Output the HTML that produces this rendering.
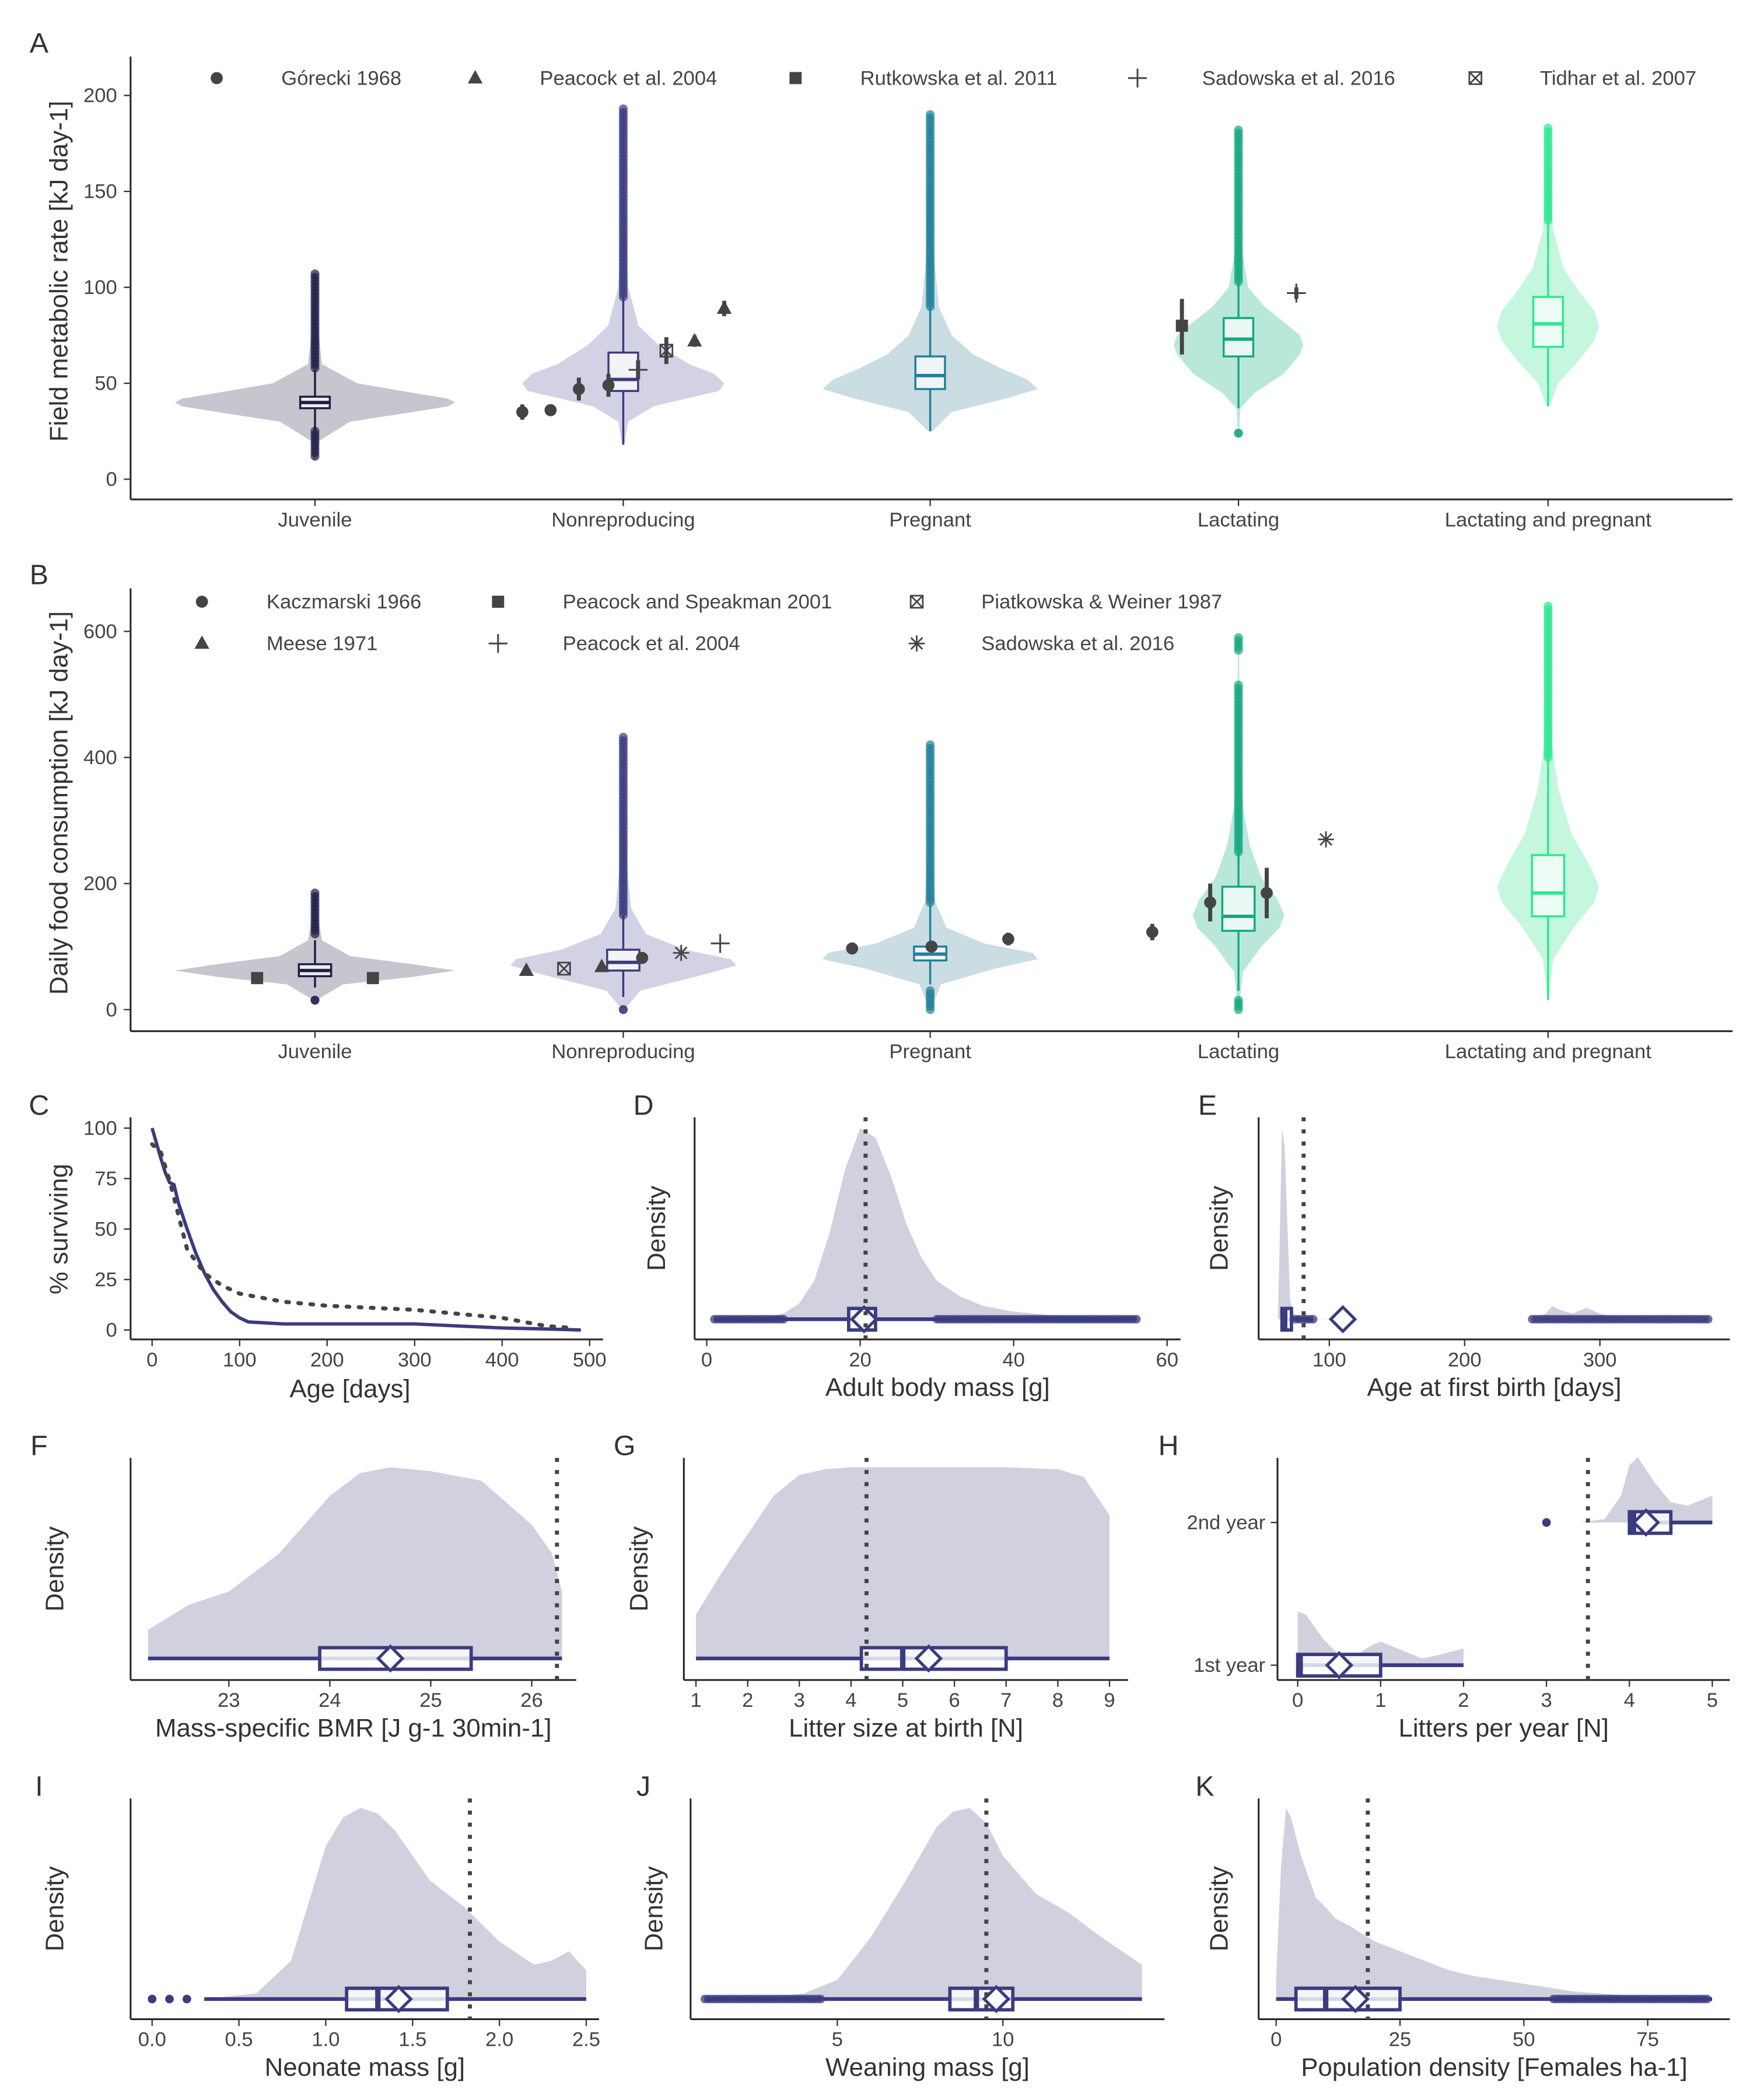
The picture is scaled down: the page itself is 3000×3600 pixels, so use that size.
<!DOCTYPE html>
<html><head><meta charset="utf-8"><style>
html,body{margin:0;padding:0;background:#fff;}
svg{display:block;font-family:"Liberation Sans",sans-serif;}
</style></head><body>
<svg id="chart" xmlns="http://www.w3.org/2000/svg" width="3000" height="3600" viewBox="0 0 1300 1560"></svg>
<script>
// ---------- DATA ----------
const catNames=["Juvenile","Nonreproducing","Pregnant","Lactating","Lactating and pregnant"];
const catKeys=["juvenile","nonreproducing","pregnant","lactating","lactating-pregnant"];
const boxColors=["#1e1e48","#3b3b80","#21809a","#14a880","#2de890"];
const violinColors=["#c6c6ce","#d2d2e4","#c9dde3","#b9e8da","#c4f7de"];
// Panel A
const aViolinVals=[[10,20,30,35,38,40,42,45,50,60,80,107],[18,30,38,43,46,50,55,60,70,80,100,130,193],[25,35,42,47,52,58,65,75,90,120,190],[24,37,45,55,65,70,75,82,90,100,120,150,182],[38,50,62,72,80,88,98,110,130,160,183]];
const aViolinW=[[0.01,0.03,0.25,0.7,0.95,1,0.95,0.7,0.3,0.05,0.02,0.01],[0.01,0.05,0.3,0.7,0.95,1,0.9,0.65,0.35,0.15,0.05,0.02,0.01],[0.02,0.2,0.7,1,0.9,0.65,0.4,0.2,0.08,0.03,0.01],[0.01,0.03,0.25,0.7,0.95,1,0.95,0.7,0.4,0.15,0.05,0.02,0.01],[0.03,0.2,0.6,0.9,1,0.9,0.6,0.3,0.1,0.03,0.01]];
const aViolinMax=[104,75,80,48,38];
const aBoxes=[[37,40,43],[46,52,66],[47,54,64],[64,73,84],[69,81,95]];
const aWhisk=[[25,57],[18,95],[25,90],[37,103],[38,135]];
const aOutliers=[[[12,25],[58,107]],[[95,193]],[[90,190]],[[103,182],[24,24]],[[135,183]]];
const aStudyX=[388,409,430,452,474,495,516,538,878,963];
const aStudyY=[35,36,47,49,57,67,72,89,80,97];
const aStudyLo=[31,34,41,43,52,60,69,85,65,94];
const aStudyHi=[39,38,53,55,62,74,75,93,94,100];
const aStudyShape=["circle","circle","circle","circle","plus","boxx","triangle","triangle","square","plus"];
const aLegendLabels=["Górecki 1968","Peacock et al. 2004","Rutkowska et al. 2011","Sadowska et al. 2016","Tidhar et al. 2007"];
const aLegendShapes=["circle","triangle","square","plus","boxx"];
const aTicks=[0,50,100,150,200];
// Panel B
const bViolinVals=[[15,40,52,62,72,85,110,150,185],[0,30,55,70,80,95,120,160,250,432],[0,40,65,80,90,105,130,170,250,420],[0,60,100,130,150,175,210,260,320,400,515,590],[15,80,130,170,195,230,280,350,420,520,640]];
const bViolinW=[[0.01,0.2,0.7,1,0.7,0.25,0.05,0.02,0.01],[0.01,0.15,0.7,1,0.95,0.55,0.2,0.07,0.02,0.01],[0.01,0.1,0.6,1,0.95,0.5,0.15,0.05,0.02,0.01],[0.01,0.1,0.5,0.9,1,0.85,0.5,0.25,0.1,0.04,0.02,0.01],[0.01,0.1,0.5,0.9,1,0.8,0.45,0.2,0.08,0.03,0.01]];
const bViolinMax=[104,84,80,34,38];
const bBoxes=[[53,62,72],[62,75,95],[78,88,100],[125,148,195],[148,185,245]];
const bWhisk=[[35,110],[20,150],[40,170],[30,250],[15,400]];
const bOutliers=[[[120,185],[15,15]],[[150,432],[0,0]],[[170,420],[0,30]],[[250,515],[570,590],[0,15]],[[400,640]]];
const bStudyX=[191,277,391,419,447,477,506,535,633,692,749,856,899,941,985];
const bStudyY=[50,50,62,65,68,82,90,105,97,100,112,123,170,185,270];
const bStudyLo=[50,50,62,65,68,82,90,105,90,100,102,110,140,145,270];
const bStudyHi=[50,50,62,65,68,82,90,105,104,100,122,136,200,225,270];
const bStudyShape=["square","square","triangle","boxx","triangle","circle","star","plus","circle","circle","circle","circle","circle","circle","star"];
const bLegendLabels=["Kaczmarski 1966","Peacock and Speakman 2001","Piatkowska & Weiner 1987","Meese 1971","Peacock et al. 2004","Sadowska et al. 2016"];
const bLegendShapes=["circle","square","boxx","triangle","plus","star"];
const bTicks=[0,200,400,600];
// Panel C
const cAge=[0,10,15,20,25,30,40,50,60,70,80,90,100,110,150,200,300,350,400,450,490];
const cSurvSolid=[100,85,78,73,72,63,50,38,28,20,14,9,6,4,3,3,3,2,1,0.5,0];
const cAgeDot=[0,10,20,40,60,80,100,150,200,300,400,450,480];
const cSurvDot=[92,88,74,40,28,22,18,14,12,10,6,2,1];
const cXTicks=[0,100,200,300,400,500];
const cYTicks=[0,25,50,75,100];
// Density panels
const dX=[1,5,8,10,12,14,16,18,20,22,24,26,28,30,33,36,40,45,50,56];
const dD=[0,0,0.01,0.03,0.08,0.2,0.45,0.78,1,0.95,0.75,0.5,0.32,0.2,0.12,0.07,0.04,0.02,0.01,0];
const dStats=[1,56,18.5,20.2,22,20.5,20.7];
const dPts=[[1,10],[30,56]];
const dTicks=[0,20,40,60];
const eX=[62,63,65,67,69,71,74,80,100,250,260,265,270,280,290,300,310,320,380];
const eD=[0,0.3,1,0.9,0.5,0.1,0.02,0.005,0,0,0.03,0.07,0.05,0.03,0.06,0.03,0.01,0,0];
const eStats=[65,88,65,67,72,110,81];
const ePts=[[75,88],[250,380]];
const eTicks=[100,200,300];
const fX=[22.2,22.6,23,23.5,24,24.3,24.6,25,25.5,26,26.2,26.3];
const fD=[0.15,0.28,0.35,0.55,0.85,0.97,1,0.98,0.93,0.7,0.55,0.35];
const fStats=[22.2,26.3,23.9,24.6,25.4,24.6,26.25];
const fTicks=[23,24,25,26];
const gX=[1,1.5,2,2.5,3,3.5,4,5,6,7,8,8.5,9];
const gD=[0.23,0.45,0.65,0.85,0.96,0.99,1,1,1,1,0.99,0.95,0.75];
const gStats=[1,9,4.2,5,7,5.5,4.3];
const gTicks=[1,2,3,4,5,6,7,8,9];
const h2X=[3.4,3.7,3.9,4.0,4.1,4.3,4.5,4.7,4.9,5];
const h2D=[0,0.05,0.4,0.85,0.97,0.6,0.3,0.25,0.35,0.4];
const h1X=[0,0.1,0.3,0.5,0.7,0.9,1,1.2,1.5,1.7,2];
const h1D=[0.8,0.75,0.4,0.15,0.15,0.3,0.35,0.25,0.1,0.15,0.25];
const hStats2=[4,5,4,4.05,4.5,4.2];
const hStats1=[0,2,0,0.03,1,0.5];
const hDotted=3.5;
const hTicks=[0,1,2,3,4,5];
const iX=[0.3,0.6,0.8,0.9,1.0,1.1,1.2,1.3,1.4,1.5,1.6,1.8,2.0,2.2,2.3,2.4,2.5];
const iD=[0,0.03,0.2,0.5,0.8,0.95,1,0.97,0.88,0.75,0.62,0.48,0.3,0.18,0.2,0.25,0.15];
const iStats=[0.3,2.5,1.12,1.3,1.7,1.42,1.83];
const iPts=[0,0.1,0.2];
const iTicks=[0,0.5,1,1.5,2,2.5];
const iTickLabels=["0.0","0.5","1.0","1.5","2.0","2.5"];
const jX=[1,3,4,5,6,7,8,8.5,9,9.5,10,11,12,13,14.2];
const jD=[0,0.01,0.03,0.1,0.32,0.6,0.9,0.98,1,0.92,0.75,0.55,0.45,0.32,0.18];
const jStats=[1,14.2,8.4,9.2,10.3,9.8,9.5];
const jPts=[[1,4.5]];
const jTicks=[5,10];
const kX=[0,1,2,3,5,8,10,12,15,20,25,30,35,40,50,60,70,80,88];
const kD=[0.1,0.7,1,0.95,0.75,0.53,0.48,0.42,0.38,0.3,0.25,0.2,0.15,0.12,0.08,0.04,0.02,0.01,0.005];
const kStats=[0,88,4,10,25,16,18.5];
const kPts=[[56,87]];
const kTicks=[0,25,50,75];

// ---------- HELPERS ----------
const NS='http://www.w3.org/2000/svg';
const svg=document.getElementById('chart');
const NAVY="#3b3b7f", DENS="#d0d0de", GRAY="#444";
function mk(tag,attrs,parent){const e=document.createElementNS(NS,tag);for(const k in attrs)e.setAttribute(k,attrs[k]);(parent||svg).appendChild(e);return e;}
function grp(name){const g=mk('g',{});return g;}
function txt(g,x,y,s,size,anchor,rot,col){const t=mk('text',{x:x,y:y,'font-size':size,'text-anchor':anchor||'middle',fill:col||'#333'},g);if(rot)t.setAttribute('transform','rotate(-90 '+x+' '+y+')');t.textContent=s;return t;}
function line(g,x1,y1,x2,y2,col,w,dash){const l=mk('line',{x1:x1,y1:y1,x2:x2,y2:y2,stroke:col,'stroke-width':w},g);if(dash)l.setAttribute('stroke-dasharray',dash);return l;}
function shape(g,type,x,y,col,s){s=s||1;let e;
 if(type==='circle'){e=mk('circle',{cx:x,cy:y,r:4.5*s,fill:col},g);}
 else if(type==='square'){e=mk('rect',{x:x-4.5*s,y:y-4.5*s,width:9*s,height:9*s,fill:col},g);}
 else if(type==='triangle'){e=mk('path',{d:`M${x} ${y-6*s}L${x+5.5*s} ${y+4*s}L${x-5.5*s} ${y+4*s}Z`,fill:col},g);}
 else if(type==='plus'){e=mk('path',{d:`M${x-7*s} ${y}H${x+7*s}M${x} ${y-7*s}V${y+7*s}`,stroke:col,'stroke-width':1.3,fill:'none'},g);}
 else if(type==='boxx'){e=mk('path',{d:`M${x-4.5*s} ${y-4.5*s}h${9*s}v${9*s}h${-9*s}ZM${x-4.5*s} ${y-4.5*s}l${9*s} ${9*s}M${x+4.5*s} ${y-4.5*s}l${-9*s} ${9*s}`,stroke:col,'stroke-width':1.2,fill:'none'},g);}
 else if(type==='star'){e=mk('path',{d:`M${x-6*s} ${y}H${x+6*s}M${x} ${y-6*s}V${y+6*s}M${x-4.3*s} ${y-4.3*s}L${x+4.3*s} ${y+4.3*s}M${x+4.3*s} ${y-4.3*s}L${x-4.3*s} ${y+4.3*s}`,stroke:col,'stroke-width':1.2,fill:'none'},g);}
 return e;}

// ---------- VIOLIN PANELS ----------
const catX=[234,463,691,920,1150];
function violinPanel(id,letter,top,bottom,yscale,ticks,vals,ws,maxw,boxes,whisk,outl,sx,sy,slo,shi,sshape,title,bw){
 const g=grp('panel-'+id);
 txt(g,29,top-3,letter,21,'middle');
 line(g,97,top,97,bottom,'#222',1.3);line(g,97,bottom,1287,bottom,'#222',1.3);
 ticks.forEach(t=>{const y=yscale(t);line(g,92,y,97,y,'#333',1);txt(g,87,y+5,String(t),15,'end',0,'#444');});
 catNames.forEach((c,i)=>{line(g,catX[i],bottom,catX[i],bottom+5,'#333',1);txt(g,catX[i],bottom+20,c,15,'middle',0,'#444');});
 txt(g,50,(top+bottom)/2-5,title,19,'middle',1,'#333');
 catNames.forEach((c,i)=>{
  const cg=mk('g',{},g);
  const v=vals[i],w=ws[i];let d='M';
  v.forEach((val,k)=>{d+=`${catX[i]+w[k]*maxw[i]} ${yscale(val)} L`;});
  for(let k=v.length-1;k>=0;k--){d+=`${catX[i]-w[k]*maxw[i]} ${yscale(v[k])}`+(k>0?' L':'');}
  const p=mk('path',{d:d+'Z',fill:violinColors[i],stroke:'none'},cg);
  const col=boxColors[i];
  line(cg,catX[i],yscale(whisk[i][0]),catX[i],yscale(boxes[i][0]),col,1.5);
  line(cg,catX[i],yscale(boxes[i][2]),catX[i],yscale(whisk[i][1]),col,1.5);
  const r=mk('rect',{x:catX[i]-bw/2,y:yscale(boxes[i][2]),width:bw,height:yscale(boxes[i][0])-yscale(boxes[i][2]),fill:'#fff','fill-opacity':0.7,stroke:col,'stroke-width':1.5},cg);
  
  line(cg,catX[i]-bw/2,yscale(boxes[i][1]),catX[i]+bw/2,yscale(boxes[i][1]),col,2.5);
  outl[i].forEach(rg=>{const y1=yscale(rg[0]),y2=yscale(rg[1]);const n=Math.max(1,Math.round((y1-y2)/2.5));
   for(let k=0;k<=n;k++){const c=mk('circle',{cx:catX[i],cy:y1-(y1-y2)*k/n,r:3.3,fill:col,'fill-opacity':0.7},cg);}});
 });
 const sg=mk('g',{},g);
 sx.forEach((x,k)=>{if(shi[k]!==slo[k])line(sg,x,yscale(slo[k]),x,yscale(shi[k]),GRAY,3);shape(sg,sshape[k],x,yscale(sy[k]),GRAY);});
 return g;
}
const yA=v=>356-v*1.4255, yB=v=>750-v*0.4683;
const gA=violinPanel('a','A',42,371,yA,aTicks,aViolinVals,aViolinW,aViolinMax,aBoxes,aWhisk,aOutliers,aStudyX,aStudyY,aStudyLo,aStudyHi,aStudyShape,'Field metabolic rate [kJ day-1]',22);
const legA=mk('g',{},gA);
[161,353,591,845,1096].forEach((x,k)=>{shape(legA,aLegendShapes[k],x,58,GRAY);txt(legA,x+48,63,aLegendLabels[k],15,'start',0,'#444');});
const gB=violinPanel('b','B',437,766,yB,bTicks,bViolinVals,bViolinW,bViolinMax,bBoxes,bWhisk,bOutliers,bStudyX,bStudyY,bStudyLo,bStudyHi,bStudyShape,'Daily food consumption [kJ day-1]',24);
const legB=mk('g',{},gB);
[[150,447],[370,447],[681,447],[150,478],[370,478],[681,478]].forEach((p,k)=>{shape(legB,bLegendShapes[k],p[0],p[1],GRAY);txt(legB,p[0]+48,p[1]+5,bLegendLabels[k],15,'start',0,'#444');});

// ---------- PANEL C ----------
(function(){
 const g=grp('panel-c');const xs=d=>113+d*0.65, ys=v=>988-v*1.5;
 txt(g,29,828,'C',21);
 line(g,97,830,97,995,'#222',1.3);line(g,97,995,448,995,'#222',1.3);
 cYTicks.forEach(t=>{line(g,92,ys(t),97,ys(t),'#333',1);txt(g,87,ys(t)+5,String(t),15,'end',0,'#444');});
 cXTicks.forEach(t=>{line(g,xs(t),995,xs(t),1000,'#333',1);txt(g,xs(t),1015,String(t),15,'middle',0,'#444');});
 txt(g,260,1038,'Age [days]',19);txt(g,50,913,'% surviving',19,'middle',1);
 const p1=mk('path',{d:'M'+cAge.map((a,k)=>xs(a)+' '+ys(cSurvSolid[k])).join(' L'),fill:'none',stroke:NAVY,'stroke-width':2.5},g);
 
 const p2=mk('path',{d:'M'+cAgeDot.map((a,k)=>xs(a)+' '+ys(cSurvDot[k])).join(' L'),fill:'none',stroke:'#444','stroke-width':3,'stroke-dasharray':'2 7','stroke-linecap':'round'},g);
 
})();

// ---------- DENSITY PANELS ----------
function densPanel(id,letter,lx,ly,ax0,ax1,top,bottom,xs,xd,dd,base,h,stats,pts,ticks,tickLabels,title,ylab,yoff){
 const g=grp('panel-'+id);
 txt(g,lx,ly,letter,21);
 line(g,ax0,top,ax0,bottom,'#222',1.3);line(g,ax0,bottom,ax1,bottom,'#222',1.3);
 ticks.forEach((t,k)=>{line(g,xs(t),bottom,xs(t),bottom+5,'#333',1);txt(g,xs(t),bottom+20,tickLabels?tickLabels[k]:String(t),15,'middle',0,'#444');});
 txt(g,(ax0+ax1)/2,bottom+42,title,19);
 if(ylab)txt(g,ax0-(yoff||45),(top+bottom)/2,ylab,19,'middle',1);
 let d=`M${xs(xd[0])} ${base}`;xd.forEach((x,k)=>{d+=` L${xs(x)} ${base-dd[k]*h}`;});d+=` L${xs(xd[xd.length-1])} ${base}Z`;
 const a=mk('path',{d:d,fill:DENS},g);
 hbox(g,xs,base,stats,pts);
 if(stats.length>6){const dl=line(g,xs(stats[6]),top,xs(stats[6]),bottom,'#444',3,'3 6');}
 return g;
}
function hbox(g,xs,y,s,pts){
 const bg=mk('g',{},g);
 line(bg,xs(s[0]),y,xs(s[1]),y,NAVY,2.8);
 if(pts)pts.forEach(r=>{if(Array.isArray(r)){const x1=xs(r[0]),x2=xs(r[1]);const n=Math.max(1,Math.round((x2-x1)/2.5));for(let k=0;k<=n;k++){const c=mk('circle',{cx:x1+(x2-x1)*k/n,cy:y,r:3.2,fill:NAVY,'fill-opacity':0.75},bg);}}
  else{const c=mk('circle',{cx:xs(r),cy:y,r:3.2,fill:NAVY},bg);}});
 const r=mk('rect',{x:xs(s[2]),y:y-8,width:Math.max(1,xs(s[4])-xs(s[2])),height:16,fill:'#fff','fill-opacity':0.8,stroke:NAVY,'stroke-width':2.5},bg);
 line(bg,xs(s[3]),y-8,xs(s[3]),y+8,NAVY,4);
 const m=xs(s[5]);const dm=mk('path',{d:`M${m} ${y-9}L${m+9} ${y}L${m} ${y+9}L${m-9} ${y}Z`,fill:'#fff',stroke:NAVY,'stroke-width':2.2},bg);
}
densPanel('d','D',478,828,516,877,830,995,v=>525+v*5.7,dX,dD,980,142,dStats,dPts,dTicks,null,'Adult body mass [g]','Density',22);
densPanel('e','E',897,828,935,1285,830,995,v=>887+v*1.005,eX,eD,980,142,eStats,ePts,eTicks,null,'Age at first birth [days]','Density',23);
densPanel('f','F',29,1081,97,428,1083,1248,v=>170+(v-23)*75,fX,fD,1232,142,fStats,null,fTicks,null,'Mass-specific BMR [J g-1 30min-1]','Density',50);
densPanel('g','G',464,1081,508,838,1083,1248,v=>517+(v-1)*38.4,gX,gD,1232,142,gStats,null,gTicks,null,'Litter size at birth [N]','Density',27);
densPanel('i','I',29,1334,97,445,1336,1500,v=>113+v*129,iX,iD,1485,142,iStats,iPts,iTicks,iTickLabels,'Neonate mass [g]','Density',50);
densPanel('j','J',478,1334,513,865,1336,1500,v=>499+v*24.6,jX,jD,1485,142,jStats,jPts,jTicks,null,'Weaning mass [g]','Density',21);
densPanel('k','K',895,1334,935,1285,1336,1500,v=>948+v*3.68,kX,kD,1485,142,kStats,kPts,kTicks,null,'Population density [Females ha-1]','Density',23);

// ---------- PANEL H ----------
(function(){
 const xs=v=>964+v*61.6;
 const g=densPanel('h','H',868,1081,949,1285,1083,1248,xs,h2X,h2D,1131,50,hStats2,[3],hTicks,null,'Litters per year [N]',null,0);
 let d=`M${xs(h1X[0])} 1237`;h1X.forEach((x,k)=>{d+=` L${xs(x)} ${1237-h1D[k]*50}`;});d+=` L${xs(h1X[h1X.length-1])} 1237Z`;
 const a=mk('path',{d:d,fill:DENS},g);
 hbox(g,xs,1237,hStats1,null);
 const dl=line(g,xs(hDotted),1083,xs(hDotted),1248,'#444',3,'3 6');
 [['2nd year',1131],['1st year',1237]].forEach(p=>{line(g,944,p[1],949,p[1],'#333',1);txt(g,940,p[1]+5,p[0],15,'end',0,'#444');});
})();
</script>
</body></html>
